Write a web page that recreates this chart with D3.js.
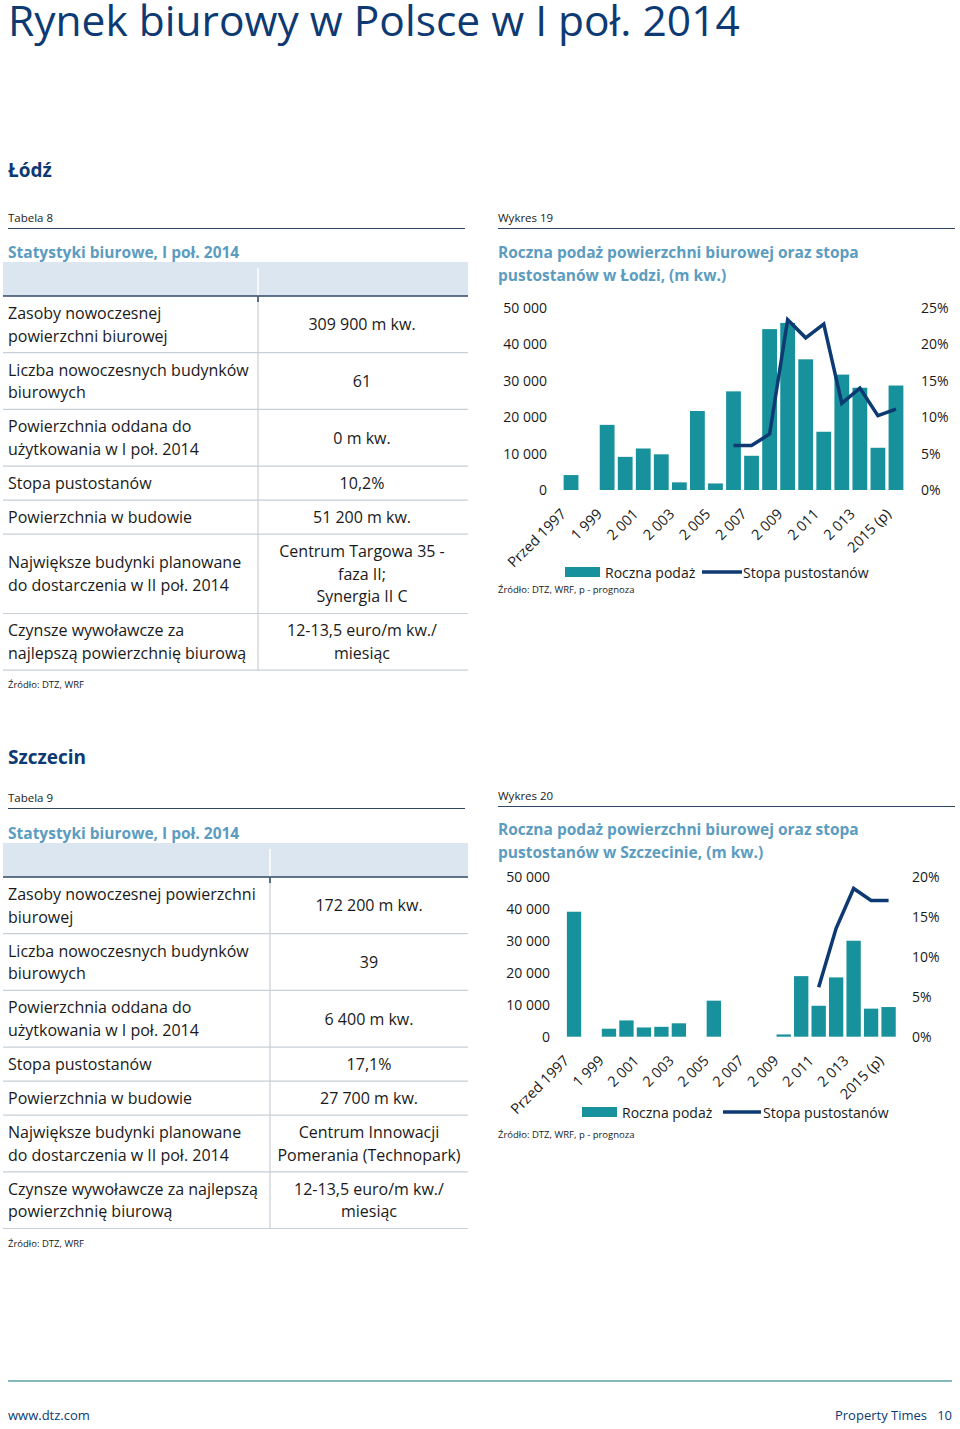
<!DOCTYPE html>
<html><head><meta charset="utf-8">
<script src="https://cdn.jsdelivr.net/npm/d3@7"></script>
<style>body{margin:0;background:#fff} text{font-family:"Open Sans",sans-serif}</style>
</head><body><svg id="page" width="960" height="1429"></svg>
<script>
// ---------- DATA ----------
const categories = ["Przed 1997","1 998","1 999","2 000","2 001","2 002","2 003","2 004","2 005","2 006","2 007","2 008","2 009","2 010","2 011","2 012","2 013","2 014","2015 (p)"];
const lodzSupply = [4100,0,17900,9100,11400,9800,2100,21700,1800,27100,9400,44200,45900,35900,16000,31700,28100,11600,28700];
const lodzVacancy = [null,null,null,null,null,null,null,null,null,6.1,6.1,7.7,23.4,20.9,22.8,11.9,14.0,10.2,11.1];
const szczSupply = [39200,0,2500,5100,2900,3100,4200,0,11300,0,0,0,700,19000,9700,18600,30100,8800,9300];
const szczVacancy = [null,null,null,null,null,null,null,null,null,null,null,null,null,null,6.2,13.6,18.6,17.1,17.1];
const supplyTicks = [0,10000,20000,30000,40000,50000];
const lodzRateTicks = [0,5,10,15,20,25];
const szczRateTicks = [0,5,10,15,20];

const lodzRowLabels = [["Zasoby nowoczesnej","powierzchni biurowej"],["Liczba nowoczesnych budynków","biurowych"],["Powierzchnia oddana do","użytkowania w I poł. 2014"],["Stopa pustostanów"],["Powierzchnia w budowie"],["Największe budynki planowane","do dostarczenia w II poł. 2014"],["Czynsze wywoławcze za","najlepszą powierzchnię biurową"]];
const lodzRowValues = [["309 900 m kw."],["61"],["0 m kw."],["10,2%"],["51 200 m kw."],["Centrum Targowa 35 -","faza II;","Synergia II C"],["12-13,5 euro/m kw./","miesiąc"]];
const szczRowLabels = [["Zasoby nowoczesnej powierzchni","biurowej"],["Liczba nowoczesnych budynków","biurowych"],["Powierzchnia oddana do","użytkowania w I poł. 2014"],["Stopa pustostanów"],["Powierzchnia w budowie"],["Największe budynki planowane","do dostarczenia w II poł. 2014"],["Czynsze wywoławcze za najlepszą","powierzchnię biurową"]];
const szczRowValues = [["172 200 m kw."],["39"],["6 400 m kw."],["17,1%"],["27 700 m kw."],["Centrum Innowacji","Pomerania (Technopark)"],["12-13,5 euro/m kw./","miesiąc"]];

// ---------- STYLE ----------
const C = {navy:"#0E3A73", teal:"#17919B", line:"#0D3A72", light:"#5B9CC0", band:"#DCE6F1", grid:"#C9CFD6", text:"#1a1a1a"};
const svg = d3.select("#page");
svg.append("rect").attr("width",960).attr("height",1429).attr("fill","#fff");

const loc = d3.formatLocale({decimal:",", thousands:" ", grouping:[3], currency:["",""]});
const fmtNum = loc.format(",");

// title
const title = svg.append("text").attr("x",8).attr("y",36).attr("fill",C.navy)
  .style("font-size","44px").text("Rynek biurowy w Polsce w I poł. 2014");
{const w = title.node().getComputedTextLength(); title.style("font-size",(44*732/w)+"px");}

function heading(y, t){
  svg.append("text").attr("x",8).attr("y",y).attr("fill",C.navy).style("font-size","19px").style("font-weight","700").text(t);
}
heading(177,"Łódź");
heading(764,"Szczecin");

function caption(x, y, t, lineY){
  svg.append("text").attr("x",x).attr("y",y).attr("fill",C.text).style("font-size","11.5px").text(t);
  svg.append("line").attr("x1",x).attr("x2",x===8?465:955).attr("y1",lineY).attr("y2",lineY).attr("stroke","#2F4866").attr("stroke-width",1.2);
}

function table(top, divX, labels, values, valX){
  const ls = 22.7;
  svg.append("text").attr("x",8).attr("y",top+2).attr("fill",C.light).style("font-size","15.5px").style("font-weight","700").text("Statystyki biurowe, I poł. 2014");
  svg.append("rect").attr("x",3).attr("y",top+6).attr("width",465).attr("height",34).attr("fill",C.band);
  svg.append("line").attr("x1",divX).attr("x2",divX).attr("y1",top+12).attr("y2",top+40).attr("stroke","#fff").attr("stroke-width",1.5);
  let y = top+40;
  svg.append("line").attr("x1",3).attr("x2",468).attr("y1",y).attr("y2",y).attr("stroke","#2F4866").attr("stroke-width",1.5);
  const y0 = y;
  labels.forEach((lab,i)=>{
    const n = Math.max(lab.length, values[i].length);
    const h = 11.3 + ls*n;
    const cy = y + h/2;
    lab.forEach((t,j)=>{
      svg.append("text").attr("x",8).attr("y",cy + (j-(lab.length-1)/2)*ls + 5.8).attr("fill",C.text).style("font-size","16px").text(t);
    });
    values[i].forEach((t,j)=>{
      svg.append("text").attr("x",valX).attr("y",cy + (j-(values[i].length-1)/2)*ls + 5.8).attr("text-anchor","middle").attr("fill",C.text).style("font-size","16px").text(t);
    });
    y += h;
    svg.append("line").attr("x1",3).attr("x2",468).attr("y1",y).attr("y2",y).attr("stroke",C.grid).attr("stroke-width",1.2);
  });
  svg.append("line").attr("x1",divX).attr("x2",divX).attr("y1",y0).attr("y2",y).attr("stroke",C.grid).attr("stroke-width",1.2);
  svg.append("line").attr("x1",divX).attr("x2",divX).attr("y1",y0).attr("y2",y0+6).attr("stroke","#2F4866").attr("stroke-width",1.5);
  svg.append("text").attr("x",8).attr("y",y+18).attr("fill",C.text).style("font-size","9.5px").text("Źródło: DTZ, WRF");
}

caption(8,222,"Tabela 8",228.5);
table(256,258,lodzRowLabels,lodzRowValues,362);
caption(8,802,"Tabela 9",808.5);
table(837,270,szczRowLabels,szczRowValues,369);

function chart(o){
  svg.append("text").attr("x",498).attr("y",o.capY).attr("fill",C.text).style("font-size","11.5px").text(o.cap);
  svg.append("line").attr("x1",498).attr("x2",955).attr("y1",o.capY+6.5).attr("y2",o.capY+6.5).attr("stroke","#2F4866").attr("stroke-width",1.2);
  o.title.forEach((t,j)=>svg.append("text").attr("x",498).attr("y",o.titleY+j*22.5).attr("fill",C.light).style("font-size","15.5px").style("font-weight","700").text(t));

  const g = svg.append("g");
  const x = d3.scaleBand().domain(categories).range(o.xr).paddingInner(0.18).paddingOuter(0.09);
  const y = d3.scaleLinear().domain([0,50000]).range(o.yr);
  const y2 = d3.scaleLinear().domain([0,d3.max(o.rateTicks)]).range(o.yr);

  g.selectAll("rect.bar").data(o.supply).join("rect").attr("class","bar")
    .attr("x",(d,i)=>x(categories[i])).attr("width",x.bandwidth())
    .attr("y",d=>y(d)).attr("height",d=>y(0)-y(d)).attr("fill",C.teal);

  const line = d3.line().defined(d=>d!=null).x((d,i)=>x(categories[i])+x.bandwidth()/2).y(d=>y2(d));
  g.append("path").datum(o.vacancy).attr("d",line).attr("fill","none").attr("stroke",C.line).attr("stroke-width",3.5).attr("stroke-linejoin","miter");

  const ax = g.append("g").attr("transform",`translate(${o.leftX},0)`)
    .call(d3.axisLeft(y).tickValues(supplyTicks).tickFormat(fmtNum).tickSize(0).tickPadding(0));
  ax.select(".domain").remove();
  ax.selectAll("text").style("font-size","14px").style("font-family","Open Sans").attr("fill",C.text);

  const ar = g.append("g").attr("transform",`translate(${o.rightX},0)`)
    .call(d3.axisRight(y2).tickValues(o.rateTicks).tickFormat(d=>d+"%").tickSize(0).tickPadding(0));
  ar.select(".domain").remove();
  ar.selectAll("text").style("font-size","14px").style("font-family","Open Sans").attr("fill",C.text);

  const ab = g.append("g").attr("transform",`translate(0,${o.yr[0]})`)
    .call(d3.axisBottom(x).tickValues(categories.filter((c,i)=>i%2===0)).tickSize(0));
  ab.select(".domain").remove();
  ab.selectAll("text").style("font-size","14.5px").style("font-family","Open Sans").attr("fill",C.text)
    .attr("text-anchor","end").attr("x",0).attr("y",0).attr("dy",0).attr("transform","translate(-4,25) rotate(-45)");

  const L = o.leg;
  svg.append("rect").attr("x",L.rx).attr("y",L.y-5).attr("width",L.rw).attr("height",10).attr("fill",C.teal);
  svg.append("text").attr("x",L.t1).attr("y",L.y+5.5).attr("fill",C.text).style("font-size","14px").text("Roczna podaż");
  svg.append("line").attr("x1",L.l1).attr("x2",L.l2).attr("y1",L.y).attr("y2",L.y).attr("stroke",C.line).attr("stroke-width",3.5);
  svg.append("text").attr("x",L.t2).attr("y",L.y+5.5).attr("fill",C.text).style("font-size","14px").text("Stopa pustostanów");
  svg.append("text").attr("x",498).attr("y",o.srcY).attr("fill",C.text).style("font-size","9.5px").text("Źródło: DTZ, WRF, p - prognoza");
}

chart({cap:"Wykres 19", capY:222, title:["Roczna podaż powierzchni biurowej oraz stopa","pustostanów w Łodzi, (m kw.)"], titleY:258,
  supply:lodzSupply, vacancy:lodzVacancy, rateTicks:lodzRateTicks,
  xr:[562,905], yr:[490,308], leftX:547, rightX:921,
  leg:{y:572, rx:565, rw:35, t1:605, l1:702, l2:742, t2:743}, srcY:593});

chart({cap:"Wykres 20", capY:800, title:["Roczna podaż powierzchni biurowej oraz stopa","pustostanów w Szczecinie, (m kw.)"], titleY:835,
  supply:szczSupply, vacancy:szczVacancy, rateTicks:szczRateTicks,
  xr:[565.3,897.3], yr:[1036.7,877.3], leftX:550, rightX:912,
  leg:{y:1112, rx:582, rw:35, t1:622, l1:723, l2:761, t2:763}, srcY:1138});

// footer
svg.append("line").attr("x1",8).attr("x2",952).attr("y1",1381).attr("y2",1381).attr("stroke","#5C9FA8").attr("stroke-width",1.5);
svg.append("text").attr("x",8).attr("y",1420).attr("fill",C.navy).style("font-size","13px").text("www.dtz.com");
svg.append("text").attr("x",952).attr("y",1420).attr("text-anchor","end").attr("fill",C.navy).style("font-size","13px").style("white-space","pre").text("Property Times   10");
</script></body></html>
